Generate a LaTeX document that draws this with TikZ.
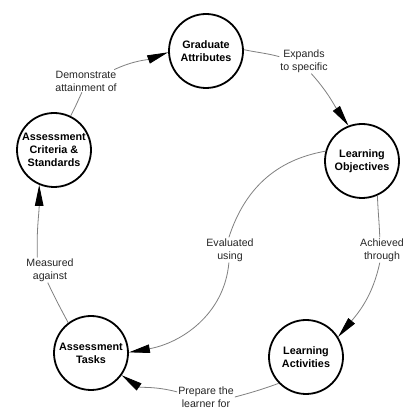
\documentclass[tikz,border=0pt]{standalone}
\usepackage{fontspec}
\setmainfont{Liberation Sans}
\usetikzlibrary{arrows.meta}
\begin{document}
\begin{tikzpicture}[x=1pt,y=1pt,
  concept/.style={circle, draw, line width=1.8pt, minimum size=74pt, inner sep=0pt, align=center,
    font=\fontsize{10.8}{13}\selectfont\bfseries},
  link/.style={draw=black!50, line width=0.8pt},
  tip/.style={link, -{Triangle[length=21pt,width=8.5pt,color=black]}},
  lbl/.style={inner sep=1pt, align=center, text=black!85, font=\fontsize{10.6}{13}\selectfont}]
\useasboundingbox[fill=white] (0,0) rectangle (409,410);
% concepts
\node[concept] (ga) at (206,359) {Graduate\\Attributes};
\node[concept] (lo) at (362,249) {Learning\\Objectives};
\node[concept] (la) at (306,53) {Learning\\Activities};
\node[concept] (at) at (91,57) {Assessment\\Tasks};
\node[concept] (ac) at (54,260) {Assessment\\Criteria \&\\Standards};
% labels
\node[lbl] (l1) at (86,329) {Demonstrate\\attainment of};
\node[lbl] (l2) at (304,349) {Expands\\to specific};
\node[lbl] (l3) at (382,160) {Achieved\\through};
\node[lbl] (l4) at (206,13) {Prepare the\\learner for};
\node[lbl] (l5) at (50,140) {Measured\\against};
\node[lbl] (l6) at (230,160) {Evaluated\\using};
% connectors
\draw[link] (ac.64) to[out=62,in=-115] (l1.-110);
\draw[tip] (l1.22) to[out=25,in=200] (ga.182);
\draw[link] (ga.2) to[out=-12,in=165] (l2.170);
\draw[tip] (l2.-60) to[out=-48,in=125] (lo.111);
\draw[link] (lo.-66) to[out=-88,in=92] (l3.100);
\draw[tip] (l3.-100) to[out=-102,in=50] (la.32);
\draw[link] (la.224) to[out=200,in=15] (l4.0);
\draw[tip] (l4.170) to[out=165,in=-34] (at.-36);
\draw[link] (at.127) to[out=118,in=-65] (l5.-100);
\draw[tip] (l5.135) to[out=92,in=-90] (ac.-113);
\draw[link] (lo.165) to[out=190,in=72] (l6.95);
\draw[tip] (l6.-95) to[out=-95,in=10] (at.1);
\end{tikzpicture}
\end{document}
